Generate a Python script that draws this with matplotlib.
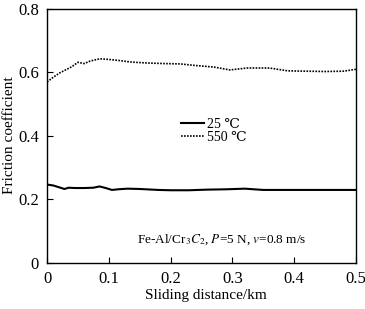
import matplotlib
matplotlib.use("Agg")
from matplotlib import pyplot as plt

plt.rcParams['font.family'] = ['Liberation Serif', 'DejaVu Serif']
plt.rcParams['mathtext.fontset'] = 'stix'

# sliding distance (km) and friction coefficient
dist_25 = [0.0, 0.01, 0.02, 0.028, 0.035, 0.045, 0.06, 0.075, 0.085, 0.095, 0.105,
           0.115, 0.13, 0.15, 0.18, 0.2, 0.23, 0.26, 0.29, 0.32, 0.35, 0.4, 0.45, 0.5]
mu_25 = [0.247, 0.244, 0.238, 0.233, 0.237, 0.236, 0.236, 0.237, 0.241, 0.236, 0.230,
         0.232, 0.234, 0.233, 0.230, 0.229, 0.229, 0.231, 0.232, 0.234, 0.230, 0.230, 0.230, 0.230]

dist_550 = [0.0, 0.01, 0.02, 0.03, 0.04, 0.05, 0.06, 0.07, 0.085, 0.1, 0.115, 0.135,
            0.16, 0.19, 0.215, 0.24, 0.27, 0.296, 0.324, 0.36, 0.39, 0.42, 0.45, 0.48, 0.5]
mu_550 = [0.570, 0.585, 0.598, 0.608, 0.618, 0.632, 0.628, 0.636, 0.643, 0.641, 0.638, 0.633,
          0.630, 0.628, 0.627, 0.622, 0.617, 0.608, 0.614, 0.614, 0.605, 0.604, 0.603, 0.604, 0.610]

xticks = [0, 0.1, 0.2, 0.3, 0.4, 0.5]
xticklabels = ["0", "0.1", "0.2", "0.3", "0.4", "0.5"]
yticks = [0, 0.2, 0.4, 0.6, 0.8]
yticklabels = ["0", "0.2", "0.4", "0.6", "0.8"]

fig = plt.figure(figsize=(3.65, 3.09), dpi=100)
ax = fig.add_axes([0.129, 0.149, 0.846, 0.822])

ax.plot(dist_25, mu_25, '-', c="black", lw=1.5, label="25 \u2103")
ax.plot(dist_550, mu_550, c="black", lw=1.2, ls=(0, (1, 0.8)), label="550 \u2103")

ax.set_xlim(0, 0.5)
ax.set_ylim(0, 0.8)
ax.set_xticks(xticks)
ax.set_xticklabels(xticklabels)
ax.set_yticks(yticks)
ax.set_yticklabels(yticklabels)
ax.tick_params(direction="in", length=4, width=0.8, labelsize=12, pad=6)
for s in ax.spines.values():
    s.set_linewidth(1.0)

ax.set_xlabel("Sliding distance/km", fontsize=11)
ax.set_ylabel("Friction coefficient", fontsize=11)
ax.xaxis.set_label_coords(0.515, -0.104)
ax.yaxis.set_label_coords(-0.102, 0.504)

ax.legend(loc="upper left", bbox_to_anchor=(0.41, 0.60), frameon=False,
          fontsize=10, handlelength=1.7, handletextpad=0.2, labelspacing=0.0,
          borderpad=0)

ax.text(0.565, 0.09, r"Fe-Al/Cr$_3$$\mathit{C}_2$, $\mathit{P}$=5 N, $\mathit{v}$=0.8 m/s",
        transform=ax.transAxes, ha="center", va="center", fontsize=9.5)

fig.savefig("out.png", dpi=100)
plt.close()
